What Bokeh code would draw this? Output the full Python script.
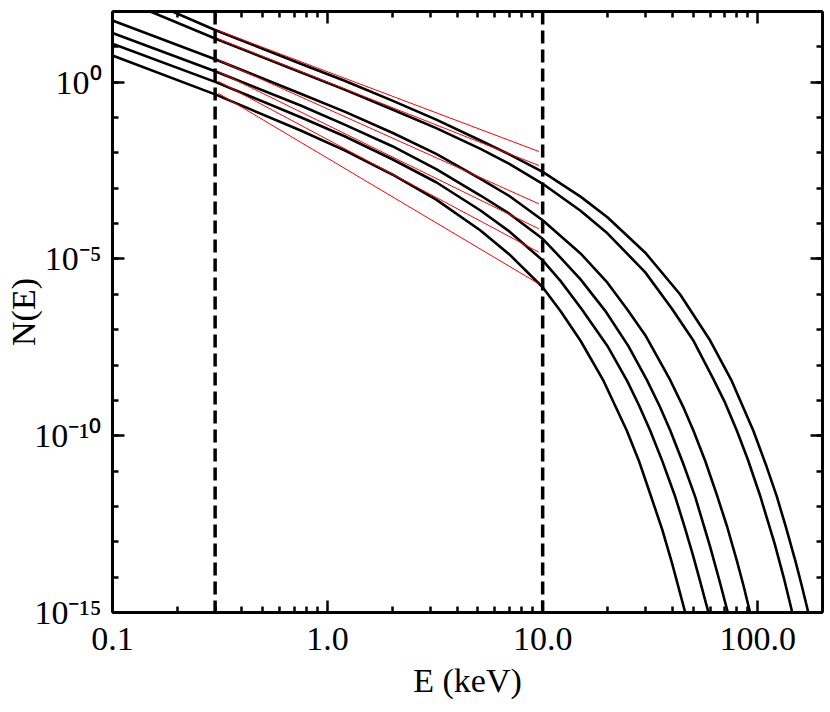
import math
from bokeh.plotting import figure
from bokeh.models import (FixedTicker, CustomJSTickFormatter, LogAxis, Span, Range1d)
from bokeh.embed import file_html
from bokeh.resources import INLINE

# ---- data: energy (keV) and log10 N(E) ----
e1 = [0.19, 0.3, 0.75, 1.2, 2.0, 3.2, 5.14, 7.0, 10.0, 15.0, 20.0, 30.0, 43.5, 60.0,
      75.7, 95.4, 110.0, 122.5, 135.0, 150.0, 160.0, 171.8]
l1 = [2.0, 1.477, 0.52, 0.04, -0.52, -1.06, -1.649, -2.04, -2.535, -3.237, -3.822,
      -4.822, -5.997, -7.30, -8.45, -9.86, -10.879, -11.71, -12.571, -13.569, -14.228, -15.0]

e2 = [0.15, 0.3, 0.75, 1.2, 2.0, 3.2, 5.14, 7.0, 10.0, 15.0, 20.0, 30.0, 39.9, 50.0,
      62.2, 70.0, 79.9, 90.0, 102.5, 120.0, 132.0, 144.7]
l2 = [2.0, 1.236, 0.283, -0.21, -0.77, -1.30, -1.884, -2.31, -2.874, -3.636, -4.274,
      -5.379, -6.41, -7.291, -8.40, -9.027, -9.853, -10.68, -11.69, -13.068, -14.004, -15.0]

e3 = [0.1, 0.3, 0.75, 1.2, 2.0, 3.2, 5.14, 7.0, 10.0, 15.0, 20.0, 24.7, 30.0, 39.2,
      45.0, 50.2, 57.0, 64.6, 72.0, 80.0, 86.0, 92.1]
l3 = [1.745, 0.65, -0.328, -0.832, -1.43, -2.027, -2.733, -3.219, -3.905, -4.844,
      -5.672, -6.42, -7.157, -8.43, -9.182, -9.853, -10.714, -11.68, -12.567, -13.537,
      -14.257, -15.0]

e4 = [0.1, 0.3, 0.75, 1.2, 2.0, 3.2, 5.14, 7.0, 10.0, 12.1, 15.0, 19.5, 25.0, 30.5,
      35.0, 39.2, 45.0, 51.2, 60.0, 66.0, 72.6]
l4 = [1.392, 0.31, -0.659, -1.20, -1.81, -2.46, -3.205, -3.72, -4.43, -4.96, -5.578,
      -6.46, -7.458, -8.42, -9.165, -9.853, -10.786, -11.73, -13.128, -14.045, -15.0]

e5 = [0.1, 0.3, 0.75, 1.2, 2.0, 3.2, 5.14, 7.0, 10.0, 12.1, 15.2, 20.0, 24.7, 28.0,
      31.6, 36.0, 41.3, 46.0, 50.0, 54.0, 59.0]
l5 = [1.086, 0.01, -0.990, -1.53, -2.18, -2.83, -3.629, -4.22, -5.04, -5.62, -6.42,
      -7.459, -8.45, -9.131, -9.853, -10.718, -11.72, -12.633, -13.384, -14.129, -15.0]

e6 = [0.1, 0.3, 0.75, 1.2, 2.0, 3.2, 5.14, 7.0, 10.0, 12.1, 15.0, 19.2, 24.6, 28.0,
      31.6, 36.0, 40.0, 46.0]
l6 = [0.755, -0.345, -1.367, -1.93, -2.61, -3.32, -4.195, -4.87, -5.80, -6.47, -7.313,
      -8.45, -9.853, -10.706, -11.64, -12.661, -13.618, -15.0]

# red power-law fits between the band edges
fit_e_lo = 0.31
fit_e_hi = 9.6
fit_log_lo = [1.4625, 1.2277, 0.6337, 0.3027, 0.0283, -0.3112]
fit_log_hi = [-1.960, -2.356, -3.440, -4.147, -4.809, -5.703]

# band edges (dashed verticals)
band_edges = [0.3, 10.0]

# axes
x_ticks = [0.1, 1.0, 10.0, 100.0]
x_tick_labels = ["0.1", "1.0", "10.0", "100.0"]
x_minor = [0.2, 0.3, 0.4, 0.5, 0.6, 0.7, 0.8, 0.9, 2, 3, 4, 5, 6, 7, 8, 9,
           20, 30, 40, 50, 60, 70, 80, 90, 200]
y_ticks = [1e-15, 1e-10, 1e-5, 1e0]
y_tick_labels = ["10\u207b\u00b9\u2075", "10\u207b\u00b9\u2070", "10\u207b\u2075", "10\u2070"]
y_minor = [10.0 ** k for k in range(-15, 3)]
x_title = "E (keV)"
y_title = "N(E)"

FONT = "Liberation Serif"

p = figure(width=830, height=712, x_axis_type="log", y_axis_type="log",
           x_range=Range1d(0.1, 200.0), y_range=Range1d(1e-15, 1e2),
           output_backend="svg", toolbar_location=None,
           min_border_left=112, min_border_right=8, min_border_top=11, min_border_bottom=100)
p.grid.visible = False
p.outline_line_color = None
p.background_fill_color = "white"
p.border_fill_color = "white"

curves = [(e1, l1), (e2, l2), (e3, l3), (e4, l4), (e5, l5), (e6, l6)]
for es, ls in curves:
    p.line(es, [10.0 ** v for v in ls], line_color="black", line_width=2.6,
           line_join="round")

for lo, hi in zip(fit_log_lo, fit_log_hi):
    p.line([fit_e_lo, fit_e_hi], [10.0 ** lo, 10.0 ** hi], line_color="#ff0000",
           line_width=1.0)

for xe in band_edges:
    p.add_layout(Span(location=xe, dimension="height", line_color="black",
                      line_width=3.5, line_dash="13 6"))

FMT_CODE = """
const i = tv.findIndex(t => Math.abs(Math.log10(t) - Math.log10(tick)) < 1e-6);
return i >= 0 ? labs[i] : "";
"""
xfmt = CustomJSTickFormatter(args=dict(tv=x_ticks, labs=x_tick_labels), code=FMT_CODE)
yfmt = CustomJSTickFormatter(args=dict(tv=y_ticks, labs=y_tick_labels), code=FMT_CODE)
blank = CustomJSTickFormatter(code='return "";')

def style_axis(ax, labels=True):
    ax.axis_line_width = 3
    ax.axis_line_color = "black"
    ax.major_tick_line_width = 2.5
    ax.minor_tick_line_width = 2.5
    ax.major_tick_line_color = "black"
    ax.minor_tick_line_color = "black"
    ax.major_tick_in = 12
    ax.major_tick_out = 0
    ax.minor_tick_in = 6
    ax.minor_tick_out = 0
    ax.major_label_text_font = FONT
    ax.major_label_text_color = "black"
    ax.axis_label_text_font = FONT
    ax.axis_label_text_font_style = "normal"
    ax.axis_label_text_color = "black"
    if not labels:
        ax.formatter = blank
        ax.major_label_text_font_size = "1px"
        ax.major_label_standoff = 0

xa = p.xaxis[0]
xa.ticker = FixedTicker(ticks=x_ticks, minor_ticks=x_minor)
xa.formatter = xfmt
style_axis(xa)
xa.major_label_text_font_size = "34px"
xa.major_label_standoff = 15
xa.axis_label = x_title
xa.axis_label_text_font_size = "34px"
xa.axis_label_standoff = 9

ya = p.yaxis[0]
ya.ticker = FixedTicker(ticks=y_ticks, minor_ticks=y_minor)
ya.formatter = yfmt
style_axis(ya)
ya.major_label_text_font_size = "34px"
ya.major_label_standoff = 11
ya.axis_label = y_title
ya.axis_label_text_font_size = "34px"
ya.axis_label_standoff = -11

top = LogAxis(ticker=FixedTicker(ticks=x_ticks, minor_ticks=x_minor))
style_axis(top, labels=False)
p.add_layout(top, "above")
right = LogAxis(ticker=FixedTicker(ticks=y_ticks, minor_ticks=y_minor))
style_axis(right, labels=False)
p.add_layout(right, "right")

open("out.html", "w").write(file_html(p, INLINE))
